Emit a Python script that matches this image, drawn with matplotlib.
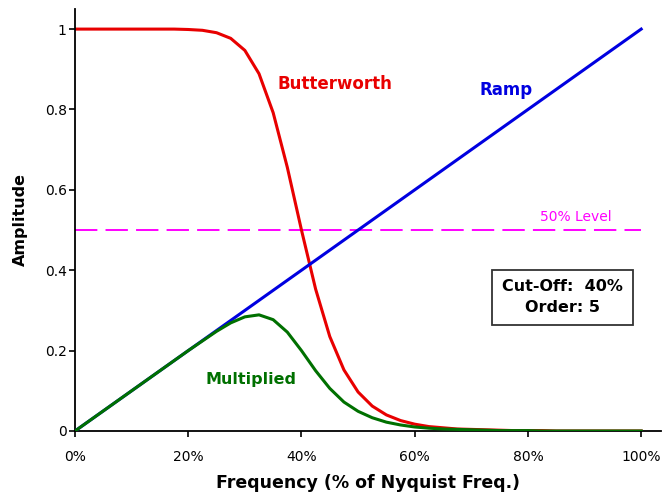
# -*- coding: utf-8 -*-
"""
Butterworth low-pass response applied to a ramp
"""
import matplotlib
matplotlib.use('Agg')
import matplotlib.pyplot as plt
from matplotlib.ticker import FuncFormatter

# frequency as a fraction of Nyquist, 2.5% steps
freq = [0.000, 0.025, 0.050, 0.075, 0.100, 0.125, 0.150, 0.175, 0.200, 0.225,
        0.250, 0.275, 0.300, 0.325, 0.350, 0.375, 0.400, 0.425, 0.450, 0.475,
        0.500, 0.525, 0.550, 0.575, 0.600, 0.625, 0.650, 0.675, 0.700, 0.725,
        0.750, 0.775, 0.800, 0.825, 0.850, 0.875, 0.900, 0.925, 0.950, 0.975,
        1.000]

butterworth = [1.000, 1.000, 1.000, 1.000, 1.000, 1.000, 1.000, 1.000, 0.999, 0.997,
               0.991, 0.977, 0.947, 0.889, 0.792, 0.656, 0.500, 0.353, 0.235, 0.152,
               0.097, 0.062, 0.040, 0.026, 0.017, 0.011, 0.008, 0.005, 0.004, 0.003,
               0.002, 0.001, 0.001, 0.001, 0.000, 0.000, 0.000, 0.000, 0.000, 0.000,
               0.000]

ramp = [0.000, 0.025, 0.050, 0.075, 0.100, 0.125, 0.150, 0.175, 0.200, 0.225,
        0.250, 0.275, 0.300, 0.325, 0.350, 0.375, 0.400, 0.425, 0.450, 0.475,
        0.500, 0.525, 0.550, 0.575, 0.600, 0.625, 0.650, 0.675, 0.700, 0.725,
        0.750, 0.775, 0.800, 0.825, 0.850, 0.875, 0.900, 0.925, 0.950, 0.975,
        1.000]

multiplied = [0.000, 0.025, 0.050, 0.075, 0.100, 0.125, 0.150, 0.175, 0.200, 0.224,
              0.248, 0.269, 0.284, 0.289, 0.277, 0.246, 0.200, 0.150, 0.106, 0.072,
              0.049, 0.033, 0.022, 0.015, 0.010, 0.007, 0.005, 0.004, 0.003, 0.002,
              0.001, 0.001, 0.001, 0.000, 0.000, 0.000, 0.000, 0.000, 0.000, 0.000,
              0.000]

level = 0.5
cutoff_text = 'Cut-Off:  40%\nOrder: 5'

fig = plt.figure(figsize=(6.63, 5.0), dpi=100)
fig.patch.set_facecolor('white')
ax = fig.add_axes([75/663, 69/500, 586/663, 422/500])

ax.plot([0, 1], [level, level], color='#ff00ff', lw=1.4, dashes=(11.5, 4.2), zorder=1)
ax.plot(freq, butterworth, color='#e80000', lw=2.2, zorder=2)
ax.plot(freq, ramp, color='#0000e0', lw=2.2, zorder=3)
ax.plot(freq, multiplied, color='#007000', lw=2.2, zorder=4)

ax.set_xlim(0, 1.035)
ax.set_ylim(0, 1.05)
ax.set_xticks([0, 0.2, 0.4, 0.6, 0.8, 1.0])
ax.set_yticks([0, 0.2, 0.4, 0.6, 0.8, 1.0])
ax.xaxis.set_major_formatter(FuncFormatter(lambda v, p: f'{v*100:.0f}%'))
ax.yaxis.set_major_formatter(FuncFormatter(lambda v, p: f'{v:g}'))
ax.tick_params(axis='x', direction='out', length=4, width=1.2, pad=10, labelsize=10)
ax.tick_params(axis='y', direction='out', length=4, width=1.2, pad=2, labelsize=10)

for side in ('top', 'right'):
    ax.spines[side].set_visible(False)
for side in ('left', 'bottom'):
    ax.spines[side].set_linewidth(1.3)

ax.set_xlabel('Frequency (% of Nyquist Freq.)', fontsize=12.5, fontweight='bold', labelpad=7)
ax.set_ylabel('Amplitude', fontsize=11.5, fontweight='bold', labelpad=12)

ax.text(0.459, 0.863, 'Butterworth', color='#e80000', fontsize=12,
        fontweight='bold', ha='center', va='center')
ax.text(0.762, 0.848, 'Ramp', color='#0000e0', fontsize=12,
        fontweight='bold', ha='center', va='center')
ax.text(0.310, 0.127, 'Multiplied', color='#007000', fontsize=11.5,
        fontweight='bold', ha='center', va='center')
ax.text(0.884, 0.532, '50% Level', color='#ff00ff', fontsize=10,
        ha='center', va='center')
ax.text(0.861, 0.333, cutoff_text, color='black', fontsize=11.5,
        fontweight='bold', ha='center', va='center', linespacing=1.5,
        bbox=dict(boxstyle='square,pad=0.6', fc='white', ec='#333333', lw=1.3))

fig.savefig('out.png', dpi=100)
